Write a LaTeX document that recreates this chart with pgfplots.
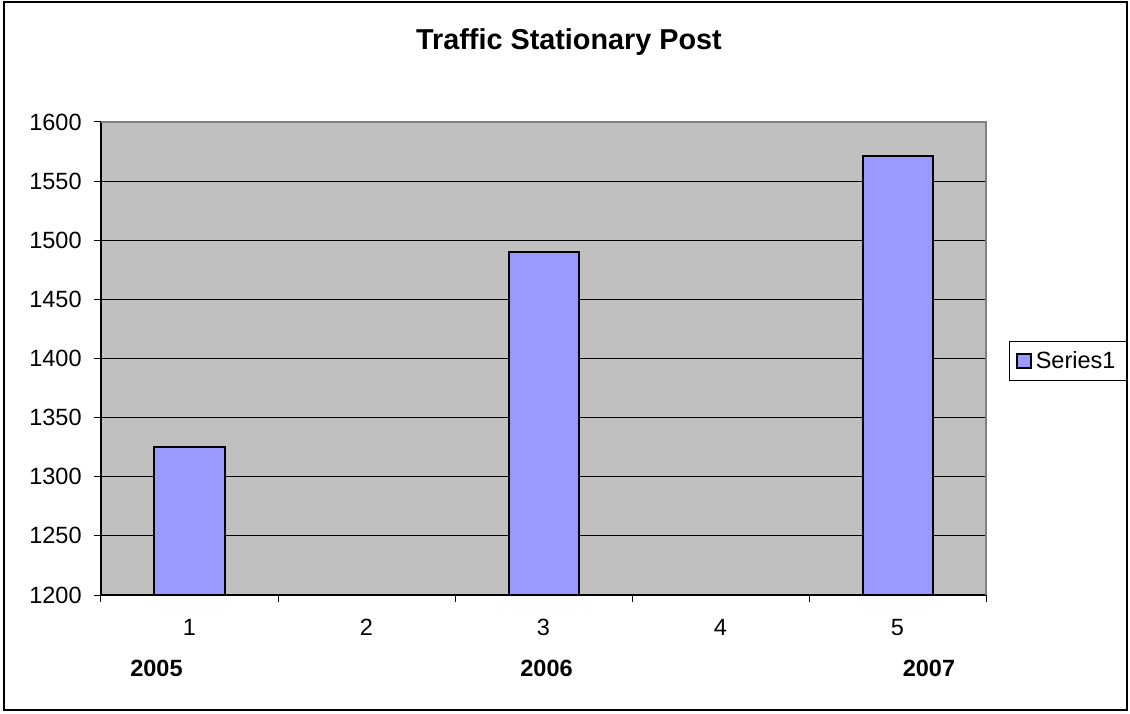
\documentclass[border=0pt]{standalone}
\usepackage{fontspec}
\setmainfont{Liberation Sans}
\usepackage{pgfplots}
\pgfplotsset{compat=1.18}
\definecolor{plotbg}{HTML}{C0C0C0}
\definecolor{barfill}{HTML}{9999FF}
\definecolor{bordergray}{HTML}{808080}
\newcommand{\lbl}{\fontsize{11.75}{14}\selectfont}
\begin{document}
\begin{tikzpicture}
\useasboundingbox (0,0) rectangle (565pt,356.5pt);
\draw[black, line width=0.75pt] (2pt,1.5pt) rectangle (563.5pt,355.5pt);
\node[font=\fontsize{14.4}{17}\selectfont\bfseries] at (284.5pt,335.5pt) {Traffic Stationary Post};
\begin{axis}[
  at={(50.5pt,59pt)}, anchor=south west,
  width=442.5pt, height=236.5pt, scale only axis,
  xmin=0.5, xmax=5.5, ymin=1200, ymax=1600,
  ytick distance=50,
  xtick={0.5,1.5,2.5,3.5,4.5,5.5},
  xticklabels={},
  extra x ticks={1,2,3,4,5},
  extra x tick labels={1,2,3,4,5},
  extra x tick style={major tick length=0pt, xticklabel style={anchor=north, inner sep=0pt, yshift=-12pt}},
  axis x line*=bottom, axis y line*=left,
  axis line style={black, line width=0.75pt, -},
  tick align=outside,
  major tick length=3.5pt,
  tick style={black, line width=0.5pt},
  ymajorgrids,
  grid style={black, line width=0.5pt},
  axis background/.style={fill=plotbg},
  ticklabel style={font=\lbl},
  /pgf/number format/assume math mode=true,
  /pgf/number format/1000 sep={},
  yticklabel style={anchor=east, inner sep=0pt, xshift=-6pt},
  legend style={at={(axis description cs:1.1593,0.4947)}, anchor=east, draw=black, line width=0.5pt, font=\lbl, inner xsep=3.5pt, inner ysep=2.5pt},
  legend cell align=left,
  extra description/.code={
    \draw[bordergray, line width=1pt] (axis description cs:0,1) -- (axis description cs:1,1) -- (axis description cs:1,0);
    \node[font=\lbl\bfseries, yshift=-36.5pt] at (axis description cs:0.0627,0) {2005};
    \node[font=\lbl\bfseries, yshift=-36.5pt] at (axis description cs:0.5034,0) {2006};
    \node[font=\lbl\bfseries, yshift=-36.5pt] at (axis description cs:0.9356,0) {2007};
  },
]
\addplot[ybar, bar width=35pt, fill=barfill, draw=black, line width=1pt,
  legend image code/.code={\draw[fill=barfill, draw=black, line width=0.75pt] (0pt,-3.5pt) rectangle (7pt,3.5pt);}]
  coordinates {(1,1325) (3,1490) (5,1571)};
\addlegendentry{Series1}
\end{axis}
\end{tikzpicture}
\end{document}
